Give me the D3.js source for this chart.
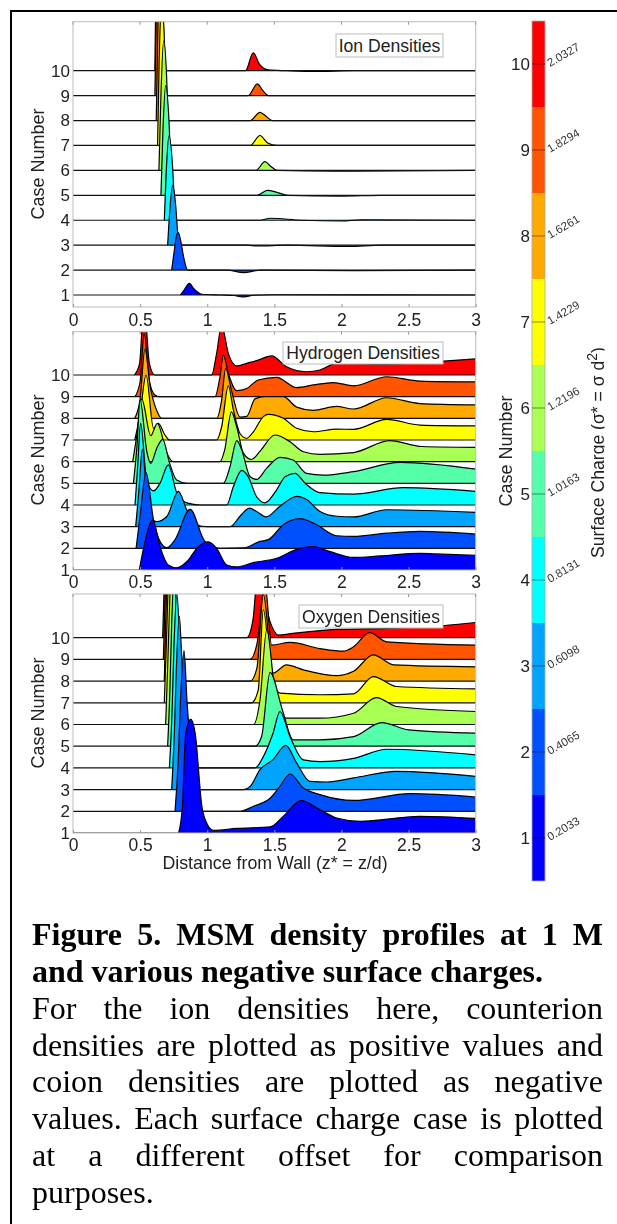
<!DOCTYPE html>
<meta charset="utf-8">
<style>
html, body { margin:0; padding:0; background:#fff; }
#page { position:relative; width:617px; height:1224px; overflow:hidden; }
svg { position:absolute; left:0; top:0; filter:blur(0.5px); }
.cap { position:absolute; left:32px; width:571px; font-family:"Liberation Serif",serif; font-size:32px; line-height:36px; color:#000; white-space:nowrap; filter:blur(0.35px); }
.cap.just { white-space:normal; text-align:justify; text-align-last:justify; }
.axis text { font-family:"Liberation Sans",sans-serif; fill:#222; }
</style>
<body>
<div id="page"></div>
<script src="https://cdnjs.cloudflare.com/ajax/libs/d3/7.8.5/d3.min.js"></script>
<script>
// [z*, height in case-spacing units above that case's baseline]
var ionCase1 = [[0.8,0],[0.83,0.22],[0.867,0.47],[0.9,0.25],[0.96,0.03],[1.1,0],[1.2,-0.02],[1.26,-0.08],[1.35,-0.01],[1.5,0.01],[3,0]];
var ionCase2 = [[0.735,0],[0.755,0.8],[0.77,1.35],[0.785,1.5],[0.805,1.1],[0.825,0.5],[0.855,0],[1.15,0],[1.27,-0.1],[1.4,0],[2.1,-0.02],[3,0]];
var ionCase3 = [[0.705,0],[0.72,1.3],[0.742,2.4],[0.765,1.6],[0.78,0.5],[0.8,0],[1.3,0],[1.37,-0.03],[1.6,0],[2.05,-0.05],[2.3,0],[3,0]];
var ionCase4 = [[0.68,0],[0.695,2],[0.715,3.4],[0.74,2.3],[0.755,0.8],[0.775,0],[1.39,0],[1.47,0.08],[1.7,0],[2.0,-0.03],[2.15,0.02],[3,0]];
var ionCase5 = [[0.655,0],[0.67,2.6],[0.69,4.4],[0.715,3],[0.73,1],[0.75,0],[1.373,0],[1.448,0.2],[1.52,0.12],[1.6,0],[2.0,-0.03],[2.3,0],[3,0]];
var ionCase6 = [[0.64,0],[0.655,3],[0.675,5.2],[0.7,3.4],[0.712,1],[0.73,0],[1.363,0],[1.43,0.35],[1.47,0.18],[1.52,0],[1.95,-0.03],[3,0]];
var ionCase7 = [[0.63,0],[0.642,3.4],[0.66,5.6],[0.685,3.6],[0.695,1],[0.71,0],[1.32,0],[1.393,0.4],[1.45,0.1],[1.52,0],[3,0]];
var ionCase8 = [[0.62,0],[0.632,3.6],[0.65,6],[0.675,3.8],[0.685,1],[0.7,0],[1.32,0],[1.393,0.33],[1.44,0.16],[1.485,0],[3,0]];
var ionCase9 = [[0.61,0],[0.622,3.8],[0.645,6.4],[0.668,4],[0.678,1],[0.69,0],[1.305,0],[1.373,0.47],[1.415,0.2],[1.455,0],[3,0]];
var ionCase10 = [[0.61,0],[0.618,3.8],[0.635,6.6],[0.655,4],[0.663,1],[0.67,0],[1.285,0],[1.343,0.72],[1.39,0.25],[1.455,0.03],[1.59,0],[1.8,-0.03],[2.1,0],[3,0]];

var hydCase1 = [[0.494,0],[0.536,1.3],[0.594,2.3],[0.648,1.08],[0.71,0.23],[0.772,0.1],[0.847,0.38],[0.934,1.08],[1.008,1.3],[1.07,1.0],[1.145,0.23],[1.22,0.14],[1.343,0.34],[1.517,0.54],[1.666,0.95],[1.79,1.08],[1.915,0.85],[2.09,0.58],[2.287,0.65],[2.585,0.77],[2.7,0.74],[3,0.68]];
var hydCase2 = [[0.47,0],[0.5,1.5],[0.544,3.5],[0.6,1.3],[0.65,0.3],[0.7,0.03],[0.76,0.4],[0.872,1.8],[0.983,0.32],[1.095,0],[1.27,0.02],[1.393,0.32],[1.455,0.4],[1.567,1.09],[1.69,1.37],[1.815,1.09],[1.964,0.58],[2.09,0.55],[2.337,0.7],[2.585,0.78],[3,0.66]];
var hydCase3 = [[0.467,0],[0.49,1.6],[0.517,3.58],[0.561,0.63],[0.623,0.23],[0.7,0.48],[0.785,1.63],[0.847,0.78],[0.92,0.09],[0.996,0],[1.17,0],[1.244,0.48],[1.314,0.86],[1.368,0.7],[1.438,0.45],[1.542,0.94],[1.666,1.4],[1.74,1.25],[1.84,0.7],[1.964,0.48],[2.09,0.45],[2.337,0.78],[3,0.66]];
var hydCase4 = [[0.462,0],[0.48,1.6],[0.504,3.77],[0.549,1.15],[0.6,0.65],[0.648,1],[0.71,1.85],[0.772,0.58],[0.847,0.1],[0.95,0],[1.145,0],[1.195,0.85],[1.257,1.6],[1.306,1.3],[1.368,0.38],[1.43,0.1],[1.517,0.7],[1.58,1.3],[1.654,1.46],[1.73,1],[1.84,0.57],[2.09,0.5],[2.46,0.8],[3,0.63]];
var hydCase5 = [[0.45,0],[0.475,1.6],[0.5,3.85],[0.549,1.5],[0.579,0.92],[0.623,1.6],[0.668,2.03],[0.72,0.92],[0.772,0.15],[0.85,0],[1.12,0],[1.17,0.77],[1.22,1.97],[1.257,1.54],[1.32,0.3],[1.368,0.18],[1.443,0.7],[1.542,1.2],[1.64,1.08],[1.74,0.46],[1.865,0.38],[2.09,0.54],[2.436,0.97],[3,0.66]];
var hydCase6 = [[0.445,0],[0.475,1.2],[0.512,2.9],[0.579,1.2],[0.628,1.77],[0.7,0.38],[0.747,0],[1.095,0],[1.13,0.54],[1.18,2.3],[1.22,1.6],[1.27,0.38],[1.33,0.1],[1.39,0.46],[1.505,1.23],[1.617,0.92],[1.716,0.46],[1.84,0.34],[2.09,0.42],[2.36,0.97],[2.6,0.7],[3,0.66]];
var hydCase7 = [[0.46,0],[0.5,1.2],[0.544,3],[0.6,0.54],[0.636,0.77],[0.685,0.23],[0.72,0],[1.07,0],[1.107,0.6],[1.157,2.5],[1.195,1.38],[1.244,0.3],[1.294,0.08],[1.344,0.38],[1.418,1.08],[1.455,1.18],[1.567,1],[1.666,0.54],[1.79,0.38],[1.964,0.5],[2.09,0.49],[2.337,0.95],[2.585,0.69],[3,0.65]];
var hydCase8 = [[0.46,0],[0.5,0.9],[0.536,3.2],[0.574,1.5],[0.623,0.37],[0.66,0],[1.07,0],[1.107,0.83],[1.137,2.3],[1.18,1.3],[1.244,0.06],[1.294,0.09],[1.356,0.9],[1.43,1],[1.567,1],[1.666,0.52],[1.79,0.37],[1.964,0.55],[2.09,0.43],[2.337,0.95],[2.585,0.68],[3,0.62]];
var hydCase9 = [[0.462,0],[0.5,0.7],[0.53,2.9],[0.57,0.7],[0.61,0.08],[0.645,0],[1.058,0],[1.095,0.92],[1.12,1.92],[1.157,1.08],[1.22,0.28],[1.294,0.38],[1.38,0.77],[1.517,0.89],[1.666,0.42],[1.79,0.54],[1.94,0.65],[2.09,0.5],[2.337,0.92],[2.585,0.72],[3,0.68]];
var hydCase10 = [[0.457,0],[0.495,0.5],[0.529,3.2],[0.57,0.5],[0.61,0],[1.033,0],[1.07,1],[1.107,2.3],[1.157,1],[1.22,0.42],[1.294,0.54],[1.368,0.66],[1.48,0.88],[1.59,0.38],[1.74,0.15],[1.84,0.23],[1.964,0.54],[2.337,0.5],[2.71,0.62],[3,0.74]];

var oxyCase1 = [[0.787,0],[0.815,1.23],[0.84,4.6],[0.877,5.25],[0.91,4.6],[0.96,1.23],[0.996,0.46],[1.045,0.12],[1.22,0.21],[1.468,0.28],[1.567,0.77],[1.7,1.49],[1.84,1.07],[1.964,0.69],[2.138,0.54],[2.585,0.77],[3,0.67]];
var oxyCase2 = [[0.76,0],[0.785,2.5],[0.8,5],[0.827,7.4],[0.85,5],[0.885,2.5],[0.93,0.4],[0.97,0],[1.244,0],[1.344,0.23],[1.468,0.6],[1.542,1.15],[1.617,1.72],[1.716,1.07],[1.84,0.77],[2.09,0.5],[2.51,0.81],[3,0.66]];
var oxyCase3 = [[0.735,0],[0.755,2.6],[0.77,5.6],[0.792,8],[0.815,5.4],[0.85,2.4],[0.9,0],[1.27,0],[1.32,0.15],[1.393,0.92],[1.49,1.38],[1.585,2.04],[1.666,1.23],[1.766,0.38],[1.89,0.35],[2.09,0.54],[2.41,0.84],[3,0.61]];
var oxyCase4 = [[0.718,0],[0.738,2.6],[0.752,5.6],[0.775,8],[0.797,5.4],[0.83,2.4],[0.88,0],[1.356,0],[1.418,0.52],[1.49,1.6],[1.542,2.6],[1.617,1.44],[1.716,0.37],[1.84,0.29],[2.09,0.44],[2.337,0.86],[3,0.6]];
var oxyCase5 = [[0.705,0],[0.722,2.6],[0.735,5.6],[0.755,8],[0.777,5.4],[0.81,2.4],[0.86,0],[1.356,0],[1.405,0.45],[1.468,3.4],[1.56,1.67],[1.64,0.29],[1.84,0.29],[2.09,0.44],[2.3,1.09],[2.5,0.75],[3,0.6]];
var oxyCase6 = [[0.69,0],[0.705,2.6],[0.72,5.6],[0.74,8],[0.762,5.4],[0.795,2.4],[0.84,0],[1.344,0],[1.393,1.13],[1.443,4.35],[1.517,0.98],[1.59,0.29],[1.84,0.29],[2.09,0.52],[2.26,1.24],[2.41,0.83],[3,0.6]];
var oxyCase7 = [[0.68,0],[0.695,2.6],[0.71,5.6],[0.73,8],[0.75,5.4],[0.78,2.4],[0.82,0],[1.33,0],[1.38,0.6],[1.418,4.3],[1.48,1.1],[1.542,0.45],[1.84,0.37],[2.09,0.41],[2.237,1.21],[2.41,0.75],[3,0.64]];
var oxyCase8 = [[0.68,0],[0.69,2.6],[0.705,5.6],[0.725,8],[0.745,5.4],[0.77,2.4],[0.81,0],[1.32,0],[1.37,0.6],[1.418,4],[1.49,0.37],[1.59,0.75],[1.716,0.52],[1.964,0.25],[2.09,0.45],[2.237,1.21],[2.387,0.75],[3,0.66]];
var oxyCase9 = [[0.673,0],[0.685,2.6],[0.7,5.6],[0.72,8],[0.74,5.4],[0.762,2.4],[0.8,0],[1.318,0],[1.37,0.7],[1.43,3.5],[1.48,0.66],[1.617,0.78],[1.84,0.5],[2.014,0.38],[2.09,0.58],[2.21,1.23],[2.337,0.81],[3,0.66]];
var oxyCase10 = [[0.668,0],[0.68,2.6],[0.695,5.6],[0.71,8],[0.73,5.4],[0.755,2.4],[0.79,0],[1.294,0],[1.34,0.8],[1.38,3.2],[1.468,0.74],[1.53,0.12],[1.64,0.2],[1.96,0.38],[2.337,0.43],[2.71,0.54],[3,0.7]];

var ionCases = [ionCase1,ionCase2,ionCase3,ionCase4,ionCase5,ionCase6,ionCase7,ionCase8,ionCase9,ionCase10];
var hydCases = [hydCase1,hydCase2,hydCase3,hydCase4,hydCase5,hydCase6,hydCase7,hydCase8,hydCase9,hydCase10];
var oxyCases = [oxyCase1,oxyCase2,oxyCase3,oxyCase4,oxyCase5,oxyCase6,oxyCase7,oxyCase8,oxyCase9,oxyCase10];

var caseNumbers = [1,2,3,4,5,6,7,8,9,10];
var caseColors = ["#0000ff","#0050ff","#00a4ff","#00ffff","#55ffaa","#aaff55","#ffff00","#ffaa00","#ff5500","#ff0000"];
var surfaceCharges = ["0.2033","0.4065","0.6098","0.8131","1.0163","1.2196","1.4229","1.6261","1.8294","2.0327"];
var xTicks = [0,0.5,1,1.5,2,2.5,3];
var xTickLabels = ["0","0.5","1","1.5","2","2.5","3"];

var captionBold = ["Figure 5. MSM density profiles at 1 M","and various negative surface charges."];
var captionBody = ["For the ion densities here, counterion","densities are plotted as positive values and","coion densities are plotted as negative","values. Each surface charge case is plotted","at a different offset for comparison","purposes."];

var page = d3.select("#page");
var svg = page.append("svg").attr("width",617).attr("height",1224);

// frame
svg.append("path").attr("d","M11,1224V11H617").attr("fill","none").attr("stroke","#000").attr("stroke-width",2);

var x = d3.scaleLinear().domain([0,3]).range([73,475.7]);

function panel(name,cases,top,bottom,y1,y10,label,labelBox,caseLabelY,tickBase) {
  var y = d3.scaleLinear().domain([1,10]).range([y1,y10]);
  var g = svg.append("g");

  g.append("clipPath").attr("id","clip"+name).append("rect")
    .attr("x",73).attr("y",top).attr("width",402.7).attr("height",bottom-top);

  var plot = g.append("g").attr("clip-path","url(#clip"+name+")");

  // case 10 first so the low cases end up on top
  for (var i = 9; i >= 0; i--) {
    let n = caseNumbers[i];
    var area = d3.area().curve(d3.curveMonotoneX)
      .x(function(d) { return x(d[0]); })
      .y0(y(n))
      .y1(function(d) { return y(n + d[1]); });
    var line = d3.line().curve(d3.curveMonotoneX)
      .x(function(d) { return x(d[0]); })
      .y(function(d) { return y(n + d[1]); });
    plot.append("path").attr("d",area(cases[i])).attr("fill",caseColors[i]);
    plot.append("path").attr("d",line(cases[i])).attr("fill","none").attr("stroke","#000").attr("stroke-width",1.2);
    plot.append("line").attr("x1",x(0)).attr("x2",x(3)).attr("y1",y(n)).attr("y2",y(n))
      .attr("stroke","#111").attr("stroke-width",1.2);
  }

  // axes box
  g.append("rect").attr("x",73).attr("y",top).attr("width",402.7).attr("height",bottom-top)
    .attr("fill","none").attr("stroke","#bbb").attr("stroke-width",1);

  var xAxis = g.append("g").attr("class","axis").attr("transform","translate(0,"+bottom+")")
    .call(d3.axisBottom(x).tickValues(xTicks).tickFormat(function(d,i) { return xTickLabels[i]; }).tickSize(-3));
  xAxis.select(".domain").remove();
  xAxis.selectAll("line").attr("stroke","#999");
  xAxis.selectAll("text").attr("font-size",17.5).attr("y",0).attr("dy",null)
    .attr("transform","translate(0,"+(tickBase-bottom)+")");

  g.append("g").attr("transform","translate(0,"+top+")").selectAll("line").data(xTicks).enter().append("line")
    .attr("x1",function(d) { return x(d); }).attr("x2",function(d) { return x(d); })
    .attr("y1",0).attr("y2",3).attr("stroke","#999");

  var yAxis = g.append("g").attr("class","axis").attr("transform","translate(73,0)")
    .call(d3.axisLeft(y).tickValues(caseNumbers).tickFormat(d3.format("d")).tickSize(0).tickPadding(3));
  yAxis.select(".domain").remove();
  yAxis.selectAll("text").attr("font-size",17);

  g.append("text")
    .attr("transform","translate(44,"+caseLabelY+") rotate(-90)")
    .attr("text-anchor","middle").attr("font-family","Liberation Sans").attr("font-size",18).attr("fill","#222")
    .text("Case Number");

  // legend box
  g.append("rect").attr("x",labelBox[0]).attr("y",labelBox[1]).attr("width",labelBox[2]).attr("height",labelBox[3])
    .attr("fill","#fff").attr("stroke","#bbb");
  g.append("text").attr("x",labelBox[0]+labelBox[2]/2).attr("y",labelBox[1]+labelBox[3]/2+6)
    .attr("text-anchor","middle").attr("font-family","Liberation Sans").attr("font-size",17.6).attr("fill","#222")
    .text(label);
}

panel("ion",ionCases,21.7,307,295,70.7,"Ion Densities",[336,34,107,23],164,326);
panel("hyd",hydCases,331.7,570,570,375,"Hydrogen Densities",[283,342,160,22],450,588);
panel("oxy",oxyCases,594,833,833,637.7,"Oxygen Densities",[299,605,144,23],713,851);

svg.append("text").attr("x",275).attr("y",869).attr("text-anchor","middle")
  .attr("font-family","Liberation Sans").attr("font-size",17.8).attr("fill","#222")
  .text("Distance from Wall (z* = z/d)");

// colour bar
var cb = d3.scaleLinear().domain([0.5,10.5]).range([881,21]);
var cbar = svg.append("g");
cbar.selectAll("rect").data(caseNumbers).enter().append("rect")
  .attr("x",532).attr("width",13)
  .attr("y",function(d) { return cb(d+0.5); })
  .attr("height",function(d) { return cb(d-0.5)-cb(d+0.5); })
  .attr("fill",function(d,i) { return caseColors[i]; });
cbar.append("rect").attr("x",532).attr("y",21).attr("width",13).attr("height",860)
  .attr("fill","none").attr("stroke","#aaa").attr("stroke-width",0.8);
cbar.selectAll("line").data(caseNumbers).enter().append("line")
  .attr("x1",532).attr("x2",545)
  .attr("y1",function(d) { return cb(d); }).attr("y2",function(d) { return cb(d); })
  .attr("stroke","#000").attr("stroke-opacity",0.45);
cbar.selectAll("text.num").data(caseNumbers).enter().append("text")
  .attr("class","num").attr("x",530).attr("y",function(d) { return cb(d)+6; })
  .attr("text-anchor","end").attr("font-family","Liberation Sans").attr("font-size",17).attr("fill","#222")
  .text(function(d) { return d; });
cbar.selectAll("text.charge").data(caseNumbers).enter().append("text")
  .attr("class","charge")
  .attr("transform",function(d) { return "translate(550,"+(cb(d)+3)+") rotate(-30)"; })
  .attr("font-family","Liberation Sans").attr("font-size",11.5).attr("fill","#333")
  .text(function(d,i) { return surfaceCharges[i]; });

svg.append("text").attr("transform","translate(512,451) rotate(-90)").attr("text-anchor","middle")
  .attr("font-family","Liberation Sans").attr("font-size",18).attr("fill","#222").text("Case Number");

// right label, cut off by the page crop in the source
svg.append("clipPath").attr("id","clipCharge").append("rect").attr("x",575).attr("y",320).attr("width",29.5).attr("height",250);
var chargeLabel = svg.append("g").attr("clip-path","url(#clipCharge)").append("text")
  .attr("transform","translate(604,558) rotate(-90)")
  .attr("font-family","Liberation Sans").attr("font-size",17.6).attr("fill","#222");
chargeLabel.append("tspan").text("Surface Charge (σ* = σ d");
chargeLabel.append("tspan").attr("dy",-7).attr("font-size",14).text("2");
chargeLabel.append("tspan").attr("dy",7).text(")");

// caption
captionBold.concat(captionBody).forEach(function(t,i) {
  var isLast = i == captionBold.length + captionBody.length - 1;
  var isBoldLast = i == captionBold.length - 1;
  page.append("div")
    .attr("class", isLast || isBoldLast ? "cap" : "cap just")
    .style("top",(916 + i*36.85)+"px")
    .style("font-weight", i < captionBold.length ? "bold" : "normal")
    .text(t);
});
</script>
</body>
